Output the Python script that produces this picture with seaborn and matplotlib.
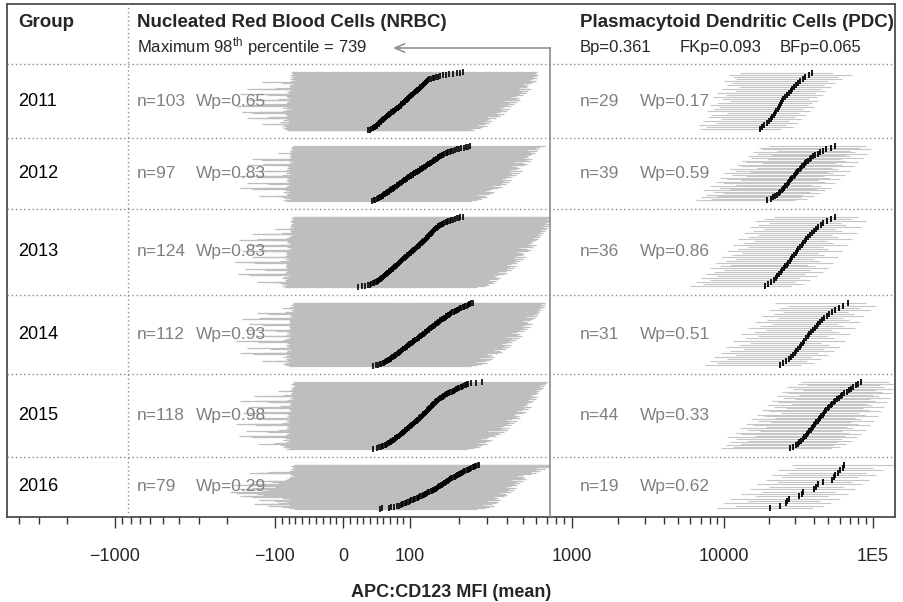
import numpy as np
import pandas as pd
import matplotlib
matplotlib.use("Agg")
import matplotlib.pyplot as plt
import matplotlib.transforms as mtrans
import seaborn as sns

# ---------------- data ----------------
groups = ["2011", "2012", "2013", "2014", "2015", "2016"]
nrbc_wp = ["0.65", "0.83", "0.83", "0.93", "0.98", "0.29"]
pdc_wp = ["0.17", "0.59", "0.86", "0.51", "0.33", "0.62"]
pdc_pvals = ["Bp=0.361", "FKp=0.093", "BFp=0.065"]
nrbc_max98 = 739

nrbc_mean_2011 = [37,40,42,44,45,46,48,49,50,51,52,53,53,54,55,56,57,58,59,60,61,62,63,64,65,66,67,68,69,70,
    71,72,74,75,76,77,78,79,80,82,83,84,85,86,86,87,88,89,90,91,92,93,94,95,96,97,97,98,99,100,
    101,102,103,104,105,106,107,108,109,110,111,112,113,114,115,116,117,118,119,120,121,122,123,124,125,126,127,128,130,132,
    135,138,141,145,150,154,160,168,175,185,195,205,213]
nrbc_lo_2011 = [-82,-80,-85,-78,-88,-84,-76,-90,-82,-86,-120,-95,-80,-78,-84,-92,-80,-76,-88,-82,
    -80,-130,-150,-110,-84,-78,-82,-76,-80,-86,-140,-160,-125,-90,-80,-78,-84,-76,-82,-88,
    -78,-82,-100,-175,-155,-118,-80,-76,-84,-78,-82,-80,-135,-145,-95,-80,-78,-76,-82,-80,
    -84,-78,-110,-165,-120,-80,-78,-82,-76,-80,-78,-74,-125,-150,-100,-78,-76,-80,-74,-78,
    -76,-74,-78,-90,-120,-80,-76,-74,-72,-78,-76,-74,-72,-76,-74,-72,-76,-78,-74,-72,-75,-74,-76]
nrbc_hi_2011 = [230,250,240,270,225,260,280,245,300,265,250,290,270,310,260,285,320,275,300,290,
    310,290,340,300,330,360,310,350,320,380,340,300,360,400,330,370,350,410,360,340,
    380,350,420,360,400,440,370,410,390,460,400,380,430,480,410,450,390,470,420,440,
    450,420,500,440,470,520,460,490,430,540,480,450,510,560,470,500,530,480,520,490,
    540,500,560,520,580,540,510,600,550,520,570,610,540,580,560,600,570,620,590,560,600,580,610]

nrbc_mean_2012 = [43,46,48,50,52,53,55,56,58,59,60,61,63,64,65,66,68,69,70,71,72,74,75,76,77,78,80,81,82,83,
    84,85,87,88,89,90,91,92,94,95,96,97,98,100,101,102,104,105,106,108,109,110,112,113,115,116,118,119,121,122,
    124,125,127,128,130,131,133,135,136,138,140,141,143,145,146,148,150,152,154,156,158,160,163,166,169,172,176,180,185,190,
    196,202,208,215,222,228,235]
nrbc_lo_2012 = [-84,-80,-88,-78,-82,-86,-90,-80,-125,-100,-82,-78,-84,-80,-76,-88,-82,-80,-86,-78,
    -80,-140,-165,-120,-84,-78,-82,-80,-76,-84,-110,-150,-95,-80,-78,-82,-76,-84,-80,-78,
    -82,-78,-130,-170,-145,-90,-80,-78,-84,-76,-80,-78,-115,-135,-84,-80,-76,-78,-82,-80,
    -78,-82,-100,-150,-118,-80,-76,-78,-74,-80,-78,-76,-122,-140,-90,-78,-74,-76,-80,-78,
    -76,-74,-78,-96,-80,-76,-74,-72,-78,-76,-74,-72,-76,-74,-72,-76,-74]
nrbc_hi_2012 = [240,260,230,280,250,270,300,255,290,275,260,310,280,320,270,300,330,290,310,300,
    320,300,350,310,340,370,320,360,330,390,350,310,370,410,340,380,360,420,370,350,
    390,360,430,370,410,450,380,420,400,470,410,390,440,490,420,460,400,480,430,450,
    460,430,510,450,480,530,470,500,440,550,490,460,520,570,480,510,540,490,530,500,
    550,510,570,530,590,550,520,610,560,530,580,620,560,600,640,600,680]

nrbc_mean_2013 = [22,28,33,37,40,42,44,46,48,50,51,52,53,55,56,57,58,59,60,61,62,63,64,65,66,67,68,69,70,71,
    72,73,74,75,76,77,78,79,80,81,82,83,84,85,85,86,87,88,89,90,91,92,93,94,95,96,97,98,99,100,
    101,102,103,104,105,106,107,108,109,110,111,112,113,114,115,116,117,118,119,120,121,122,123,124,125,126,127,128,129,130,
    131,132,133,134,135,136,137,138,139,140,141,142,143,144,146,148,150,152,154,156,158,160,163,166,169,172,176,180,185,190,
    195,200,205,212]
nrbc_lo_2013 = [-86,-82,-90,-80,-84,-88,-94,-82,-130,-105,-84,-80,-86,-82,-78,-90,-84,-82,-88,-80,
    -82,-145,-170,-125,-86,-80,-84,-82,-78,-86,-115,-155,-98,-82,-80,-84,-78,-86,-82,-80,
    -84,-80,-135,-178,-150,-92,-82,-80,-86,-78,-82,-80,-120,-140,-86,-82,-78,-80,-84,-82,
    -80,-84,-105,-160,-122,-82,-78,-80,-76,-82,-80,-78,-128,-150,-94,-80,-76,-78,-82,-80,
    -78,-82,-112,-168,-130,-84,-78,-76,-80,-78,-76,-74,-118,-140,-90,-78,-76,-74,-78,-76,
    -74,-78,-100,-80,-76,-74,-72,-78,-76,-74,-72,-76,-74,-72,-76,-78,-74,-72,-75,-74,-76,-72,-74,-73]
nrbc_hi_2013 = [260,290,250,310,270,300,330,280,320,300,290,340,310,350,300,330,360,320,340,330,
    350,330,380,340,370,400,350,390,360,420,380,340,400,440,370,410,390,450,400,380,
    420,390,460,400,440,480,410,450,430,500,440,420,470,520,450,490,430,510,460,480,
    490,460,540,480,510,560,500,530,470,580,520,490,550,600,510,540,570,520,560,530,
    580,540,600,560,620,580,550,640,590,560,610,650,580,620,600,660,610,640,680,620,
    650,620,690,640,700,660,630,720,670,650,700,739,680,710,690,739,700,720,739,700,720,739,710,739]

nrbc_mean_2014 = [45,49,52,55,57,59,61,63,64,66,67,68,70,71,72,73,75,76,77,78,79,80,82,83,84,85,86,87,88,89,
    90,92,93,94,95,96,97,98,99,100,102,103,104,105,106,107,108,110,111,112,113,114,116,117,118,119,120,122,123,124,
    125,127,128,129,131,132,133,135,136,137,139,140,142,143,145,146,148,149,151,153,154,156,158,160,162,164,166,168,170,172,
    174,176,178,180,183,186,189,192,195,198,201,204,208,212,216,220,224,228,232,236,240,245]
nrbc_lo_2014 = [-80,-84,-78,-88,-82,-76,-86,-80,-120,-98,-82,-78,-84,-80,-76,-88,-82,-80,-84,-78,
    -80,-138,-165,-118,-84,-78,-82,-80,-76,-84,-108,-150,-92,-80,-78,-82,-76,-84,-80,-78,
    -82,-78,-128,-175,-140,-88,-80,-78,-84,-76,-80,-78,-112,-132,-84,-80,-76,-78,-82,-80,
    -78,-82,-98,-155,-115,-80,-76,-78,-74,-80,-78,-76,-120,-145,-88,-78,-74,-76,-80,-78,
    -76,-80,-105,-160,-125,-82,-76,-74,-78,-76,-74,-72,-110,-130,-86,-76,-74,-72,-76,-74,
    -72,-76,-90,-78,-74,-72,-70,-76,-74,-72,-70,-74]
nrbc_hi_2014 = [240,260,230,280,250,270,300,255,290,275,260,310,280,320,270,300,330,290,310,300,
    320,300,350,310,340,370,320,360,330,390,350,310,370,410,340,380,360,420,370,350,
    390,360,430,370,410,450,380,420,400,470,410,390,440,490,420,460,400,480,430,450,
    460,430,510,450,480,530,470,500,440,550,490,460,520,570,480,510,540,490,530,500,
    550,510,570,530,590,550,520,610,560,530,580,620,560,600,580,630,590,620,650,600,
    620,600,650,620,670,640,610,680,650,630,680,660]

nrbc_mean_2015 = [44,50,53,56,58,60,62,64,65,67,68,70,71,72,73,75,76,77,78,79,80,81,83,84,85,86,87,88,89,90,
    91,92,93,94,95,96,97,98,99,100,101,102,103,104,105,106,107,108,109,110,111,112,113,114,115,116,117,118,119,120,
    121,122,123,124,125,126,127,128,129,130,131,132,133,134,135,136,137,138,139,140,142,143,144,145,147,148,150,151,153,155,
    157,159,161,163,165,167,169,172,175,178,181,184,187,190,193,196,199,202,206,210,214,218,222,226,230,240,255,280]
nrbc_lo_2015 = [-84,-80,-88,-78,-82,-86,-92,-80,-128,-102,-82,-78,-84,-80,-76,-88,-82,-80,-86,-78,
    -80,-142,-168,-122,-84,-78,-82,-80,-76,-84,-112,-152,-96,-80,-78,-82,-76,-84,-80,-78,
    -82,-78,-132,-176,-148,-90,-80,-78,-84,-76,-80,-78,-118,-138,-84,-80,-76,-78,-82,-80,
    -78,-82,-102,-158,-120,-80,-76,-78,-74,-80,-78,-76,-126,-148,-92,-78,-74,-76,-80,-78,
    -76,-80,-110,-165,-128,-82,-76,-74,-78,-76,-74,-72,-115,-136,-88,-76,-74,-72,-76,-74,
    -72,-76,-95,-78,-74,-72,-70,-76,-74,-72,-70,-74,-72,-76,-74,-72,-70,-74]
nrbc_hi_2015 = [230,250,240,270,225,260,280,245,300,265,250,290,270,310,260,285,320,275,300,290,
    310,290,340,300,330,360,310,350,320,380,340,300,360,400,330,370,350,410,360,340,
    380,350,420,360,400,440,370,410,390,460,400,380,430,480,410,450,390,470,420,440,
    450,420,500,440,470,520,460,490,430,540,480,450,510,560,470,500,530,480,520,490,
    540,500,560,520,580,540,510,600,550,520,570,610,540,580,560,600,570,620,590,560,
    600,580,630,600,650,620,590,660,630,610,670,640,620,680,650,690,660,700]

nrbc_mean_2016 = [55,58,68,72,76,80,83,86,88,90,92,94,96,98,100,102,104,106,108,110,112,114,116,118,120,122,124,126,128,130,
    132,134,136,138,140,142,144,146,148,150,152,154,156,158,160,162,164,166,168,170,172,174,176,178,180,183,186,189,192,195,
    198,201,204,207,210,213,216,220,224,228,232,236,240,244,248,252,256,262,268]
nrbc_lo_2016 = [-72,-68,-80,-76,-90,-110,-84,-78,-120,-135,-96,-80,-76,-82,-100,-125,-88,-80,-78,-84,
    -90,-140,-165,-150,-118,-86,-80,-130,-175,-190,-160,-120,-95,-84,-110,-150,-170,-140,-100,-88,
    -82,-120,-155,-180,-145,-96,-84,-80,-105,-135,-110,-86,-78,-82,-76,-80,-74,-78,-72,-76,
    -74,-70,-78,-130,-145,-110,-80,-76,-72,-74,-70,-76,-72,-70,-74,-72,-76,-70,-72]
nrbc_hi_2016 = [260,290,250,310,270,300,330,280,320,300,290,340,310,350,300,330,360,320,340,330,
    350,330,380,340,370,400,350,390,360,420,380,340,400,440,370,410,390,450,400,380,
    420,390,460,400,440,480,410,450,430,500,440,420,470,520,450,490,430,510,460,480,
    500,470,560,520,600,560,540,640,600,580,680,620,600,720,680,739,700,739,739]

pdc_mean_2011 = [17400,18000,18600,19300,19900,20500,21000,21500,22000,22400,22900,23300,23700,24100,24500,
    25000,25600,26300,27100,28000,28700,29600,30600,31500,32600,33700,35200,37000,38800]
pdc_lo_2011 = [6900,7600,6800,8800,7300,9500,7800,8200,10500,7700,8600,9300,8100,8900,11000,9700,8400,10200,9000,11800,
    9600,12500,10400,11200,10000,12000,11500,10800,12700]
pdc_hi_2011 = [24000,29000,26000,31000,27500,33000,30000,35000,32000,38000,34000,40000,36500,39000,43000,37500,42000,46000,
    41000,48000,45000,52000,47000,56000,50000,62000,58000,73000,54000]

pdc_mean_2012 = [19500,20500,21400,22000,22600,23200,23800,24300,24800,25300,25800,26300,26800,27300,27800,28300,28800,29300,
    29800,30400,31000,31600,32200,32800,33500,34200,35000,35800,36700,37600,38600,39700,41000,42500,44000,46000,48500,52000,56000]
pdc_lo_2012 = [6500,8200,7000,9000,7600,10000,8400,7200,11000,9200,8000,12000,9800,8800,13000,10500,9400,14000,11200,10000,
    15000,12000,11000,16500,13000,12200,18000,14000,13200,19500,15200,14400,21000,16500,15600,22500,18000,17200,20000]
pdc_hi_2012 = [30000,36000,33000,40000,34000,44000,38000,48000,42000,52000,45000,39000,56000,48000,43000,60000,51000,47000,
    65000,54000,50000,70000,58000,53000,75000,62000,57000,80000,66000,61000,86000,70000,65000,92000,76000,70000,98000,82000,90000]

pdc_mean_2013 = [18800,19800,20700,21500,22200,22800,23400,24000,24600,25200,25800,26400,27000,27600,28200,28800,29500,30200,
    30900,31600,32400,33200,34000,34900,35800,36800,37800,38900,40100,41400,42800,44500,46500,49000,52000,55800]
pdc_lo_2013 = [6000,7200,6500,8000,7000,9000,7600,8500,10000,8000,9400,11000,8800,10300,12000,9600,11300,13200,10500,12300,
    14500,11400,13300,15800,12400,14400,17000,13500,15600,18500,14800,17000,20000,16200,18500,21500]
pdc_hi_2013 = [28000,34000,30000,38000,32000,42000,35000,46000,38000,50000,41000,36000,54000,44000,40000,58000,47000,43000,
    62000,50000,46000,67000,54000,49000,72000,58000,53000,78000,62000,57000,84000,66000,61000,90000,72000,80000]

pdc_mean_2014 = [23700,25000,26200,27200,28100,29000,29800,30600,31400,32200,33000,33800,34700,35600,36500,37500,38500,39600,
    40700,41900,43100,44400,45800,47300,49000,51000,53200,56000,59500,63500,68400]
pdc_lo_2014 = [7500,9000,8000,10500,8600,12000,9500,11000,13500,10200,12500,15000,11500,14000,17000,13000,15800,19000,14500,
    17500,21000,16000,19500,23000,18000,21500,25000,20000,23500,27000,22000]
pdc_hi_2014 = [33000,40000,36000,45000,39000,50000,43000,55000,47000,60000,51000,45000,65000,55000,49000,70000,59000,53000,
    76000,64000,58000,82000,69000,63000,88000,75000,68000,96000,82000,105000,90000]

pdc_mean_2015 = [27700,29000,30200,31200,32100,33000,33800,34600,35300,36000,36700,37400,38100,38800,39500,40200,40900,41700,
    42500,43300,44100,45000,45900,46800,47800,48800,49900,51000,52200,53400,54700,56000,57500,59000,60700,62500,64500,66700,
    69000,71500,74200,77000,80000,83000]
pdc_lo_2015 = [9500,11500,10200,13000,11000,14500,12000,10500,16000,13000,11800,17500,14200,12800,19000,15500,14000,20500,
    17000,15200,22000,18500,16500,24000,20000,18000,26000,21500,19500,28000,23000,21000,30000,25000,22500,32000,27000,24500,
    34000,29000,26500,36000,31000,33000]
pdc_hi_2015 = [52000,60000,55000,66000,58000,72000,62000,78000,65000,84000,69000,62000,90000,74000,67000,96000,79000,71000,
    102000,84000,76000,108000,89000,81000,114000,94000,86000,120000,99000,91000,125000,104000,96000,130000,110000,101000,
    135000,115000,106000,138000,120000,112000,140000,128000]

pdc_mean_2016 = [20300,23700,26000,26600,27200,32000,33300,34000,40500,41500,42500,46000,53000,54500,56000,58000,60500,62700,64500]
pdc_lo_2016 = [8900,12000,10000,14500,11000,16000,13000,18000,15000,20000,16500,22500,19000,24500,21000,27000,23000,30000,28800]
pdc_hi_2016 = [39500,46000,52000,44000,60000,50000,68000,56000,76000,64000,85000,72000,95000,80000,105000,90000,118000,100000,145000]

nrbc_means = [nrbc_mean_2011, nrbc_mean_2012, nrbc_mean_2013, nrbc_mean_2014, nrbc_mean_2015, nrbc_mean_2016]
nrbc_los = [nrbc_lo_2011, nrbc_lo_2012, nrbc_lo_2013, nrbc_lo_2014, nrbc_lo_2015, nrbc_lo_2016]
nrbc_his = [nrbc_hi_2011, nrbc_hi_2012, nrbc_hi_2013, nrbc_hi_2014, nrbc_hi_2015, nrbc_hi_2016]
pdc_means = [pdc_mean_2011, pdc_mean_2012, pdc_mean_2013, pdc_mean_2014, pdc_mean_2015, pdc_mean_2016]
pdc_los = [pdc_lo_2011, pdc_lo_2012, pdc_lo_2013, pdc_lo_2014, pdc_lo_2015, pdc_lo_2016]
pdc_his = [pdc_hi_2011, pdc_hi_2012, pdc_hi_2013, pdc_hi_2014, pdc_hi_2015, pdc_hi_2016]

major_ticks = [-1000, -100, 0, 100, 1000, 10000, 100000]
major_labels = ["\u22121000", "\u2212100", "0", "100", "1000", "10000", "1E5"]

# ---------------- style ----------------
sns.set_style("white")
plt.rcParams["font.family"] = ["Liberation Sans", "DejaVu Sans"]
plt.rcParams["mathtext.fontset"] = "custom"
plt.rcParams["mathtext.rm"] = "Liberation Sans"
plt.rcParams["mathtext.it"] = "Liberation Sans:italic"
plt.rcParams["mathtext.bf"] = "Liberation Sans:bold"

# biexponential-like axis: linear in [-100, 100], logarithmic outside
TK = [-5, -4, -3, -2, -1, 0, 1, 2, 3, 4, 5, 6]
PX = [-365, -205, -45, 115, 275, 343.3, 410, 571.7, 724.3, 872.7, 1021, 1169]


def _t(x):
    x = np.asarray(x, dtype=float)
    a = np.abs(x)
    return np.where(a <= 100, x / 100.0, np.sign(x) * (1 + np.log10(np.maximum(a, 1e-9) / 100.0)))


def _tinv(t):
    t = np.asarray(t, dtype=float)
    a = np.abs(t)
    return np.where(a <= 1, t * 100.0, np.sign(t) * 100.0 * 10 ** (np.maximum(a, 1) - 1))


def fwd(x):
    return np.interp(_t(x), TK, PX)


def inv(p):
    return _tinv(np.interp(p, PX, TK))


W, H = 904, 602
fig = plt.figure(figsize=(W / 100, H / 100), dpi=100)
L, R, T, B = 7, 895, 4, 517
ax = fig.add_axes([L / W, 1 - B / H, (R - L) / W, (B - T) / H])
ax.set_xscale("function", functions=(fwd, inv))
ax.set_xlim(float(inv(L)), float(inv(R)))

pad = 27.0
px_per_slot = 0.5698
header = (64 - T) / px_per_slot
row_sizes = [len(m) + pad for m in nrbc_means]
total = header + sum(row_sizes)
ax.set_ylim(total, 0)

xa = mtrans.blended_transform_factory(ax.transAxes, ax.transData)


def fx(px):
    return (px - L) / (R - L)


def yslot(py):
    return (py - T) / px_per_slot


grey_line = "#BEBEBE"
pdc_grey = "#C6C6C6"
txt_grey = "#808080"
dot_col = "#8C8C8C"

rows_nrbc, rows_pdc = [], []
start = header
bounds = [header]
for i, g in enumerate(groups):
    n = len(nrbc_means[i])
    end = start + row_sizes[i]
    base = end - pad / 2
    ys = base - (np.arange(n) + 0.5)
    rows_nrbc.append(pd.DataFrame({"group": g, "y": ys, "mean": nrbc_means[i],
                                   "lo": nrbc_los[i], "hi": nrbc_his[i]}))
    m = len(pdc_means[i])
    ysp = base - (np.arange(m) + 0.5) * n / m
    rows_pdc.append(pd.DataFrame({"group": g, "y": ysp, "mean": pdc_means[i],
                                  "lo": pdc_los[i], "hi": pdc_his[i]}))
    mid = (start + end) / 2
    ax.text(fx(18), mid, g, transform=xa, ha="left", va="center", fontsize=13, color="black")
    ax.text(fx(137), mid, f"n={n}", transform=xa, ha="left", va="center", fontsize=12.5,
            color=txt_grey, zorder=6)
    ax.text(fx(196), mid, f"Wp={nrbc_wp[i]}", transform=xa, ha="left", va="center", fontsize=12.5,
            color=txt_grey, zorder=6)
    ax.text(fx(580), mid, f"n={m}", transform=xa, ha="left", va="center", fontsize=12.5,
            color=txt_grey, zorder=6)
    ax.text(fx(640), mid, f"Wp={pdc_wp[i]}", transform=xa, ha="left", va="center", fontsize=12.5,
            color=txt_grey, zorder=6)
    start = end
    bounds.append(end)

nrbc = pd.concat(rows_nrbc, ignore_index=True)
pdc = pd.concat(rows_pdc, ignore_index=True)

# interval lines
ax.hlines(nrbc["y"], nrbc["lo"], nrbc["hi"], color=grey_line, lw=0.9, zorder=2)
ax.hlines(pdc["y"], pdc["lo"], pdc["hi"], color=pdc_grey, lw=0.8, zorder=2)

# mean tick marks
sns.scatterplot(data=nrbc, x="mean", y="y", marker="|", s=18, color="black", linewidth=1.2,
                ax=ax, legend=False, zorder=4)
sns.scatterplot(data=pdc, x="mean", y="y", marker="|", s=20, color="black", linewidth=1.3,
                ax=ax, legend=False, zorder=4)

# separators
for b in bounds[:-1]:
    ax.axhline(b, color=dot_col, lw=1.0, ls=(0, (1, 2)), zorder=3)
ax.plot([fx(128), fx(128)], [0, 1], transform=ax.transAxes, color=dot_col, lw=1.0,
        ls=(0, (1, 2)), zorder=3)

# NRBC max 98th percentile marker
y48 = yslot(48)
ax.plot([nrbc_max98, nrbc_max98], [y48, total], color="#8A8A8A", lw=1.2, zorder=5)
ax.annotate("", xy=(float(inv(393)), y48), xytext=(nrbc_max98, y48),
            arrowprops=dict(arrowstyle="->,head_length=0.7,head_width=0.3", color="#8A8A8A",
                            lw=1.1, shrinkA=0, shrinkB=0), zorder=5)

# header
ax.text(fx(18), yslot(22), "Group", transform=xa, ha="left", va="center", fontsize=13.5,
        fontweight="bold")
ax.text(fx(137), yslot(22), "Nucleated Red Blood Cells (NRBC)", transform=xa, ha="left",
        va="center", fontsize=13.5, fontweight="bold")
ax.text(fx(137), yslot(47), r"Maximum 98$^{\mathrm{th}}$ percentile = " + str(nrbc_max98),
        transform=xa, ha="left", va="center", fontsize=12)
ax.text(fx(580), yslot(22), "Plasmacytoid Dendritic Cells (PDC)", transform=xa, ha="left",
        va="center", fontsize=13.5, fontweight="bold")
for xp, s in zip([580, 680, 780], pdc_pvals):
    ax.text(fx(xp), yslot(47), s, transform=xa, ha="left", va="center", fontsize=12)

# axes decoration
minor = ([-4000, -3000, -2000] + [-v for v in range(900, 100, -100)] + [-v for v in range(90, 0, -10)]
         + list(range(10, 100, 10)) + list(range(200, 1000, 100)) + list(range(2000, 10000, 1000))
         + list(range(20000, 100000, 10000)))
ax.set_xticks(major_ticks)
ax.set_xticklabels(major_labels)
ax.set_xticks(minor, minor=True)
ax.tick_params(axis="x", which="major", direction="out", length=8, width=1.0, color="#333333",
               labelsize=13, pad=14, bottom=True)
ax.tick_params(axis="x", which="minor", direction="out", length=5, width=1.0, color="#333333",
               bottom=True)
ax.set_yticks([])
ax.set_ylabel("")
ax.set_xlabel("APC:CD123 MFI (mean)", fontsize=13, fontweight="bold", labelpad=14)
for sp in ax.spines.values():
    sp.set_visible(True)
    sp.set_color("#4D4D4D")
    sp.set_linewidth(1.3)

fig.savefig("out.png", dpi=100, facecolor="white")
